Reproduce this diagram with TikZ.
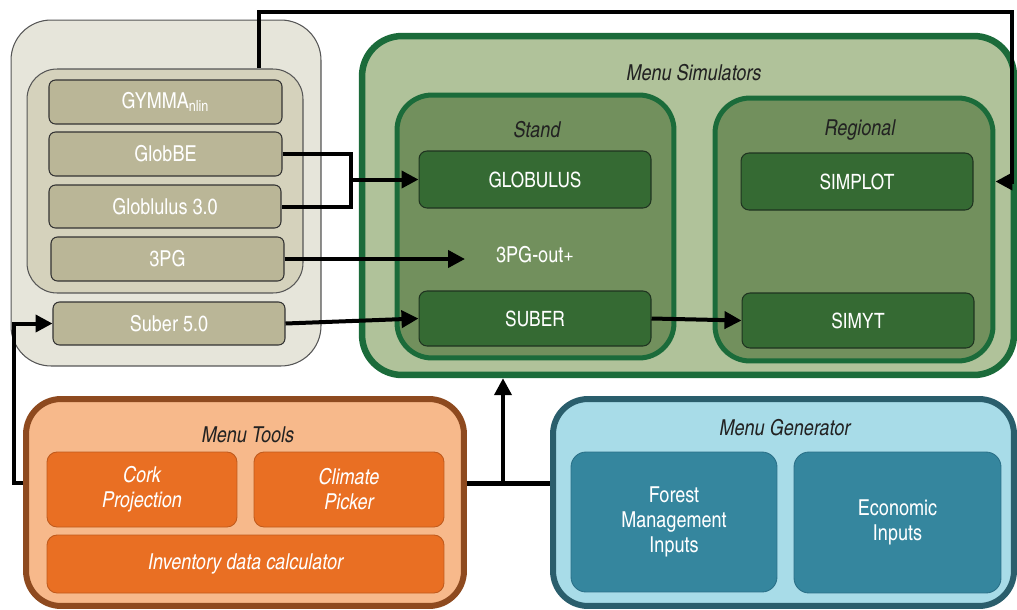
\documentclass[tikz,border=0pt]{standalone}
\usepackage{fontspec}
\setmainfont{texgyreheroscn}[Extension=.otf, UprightFont=*-regular, ItalicFont=*-italic, BoldFont=*-bold, BoldItalicFont=*-bolditalic]
\usepackage{tikz}
\usetikzlibrary{positioning,calc,arrows.meta}
\definecolor{GreyOuter}{HTML}{E6E5DA}
\definecolor{GreyInner}{HTML}{D5D2BC}
\definecolor{GreyLine}{HTML}{555555}
\definecolor{Tan}{HTML}{BAB697}
\definecolor{SimFill}{HTML}{B0C29A}
\definecolor{SimLine}{HTML}{1B6B3A}
\definecolor{StandFill}{HTML}{72905D}
\definecolor{SimDark}{HTML}{356A33}
\definecolor{SimDarkLine}{HTML}{1F3320}
\definecolor{ToolsFill}{HTML}{F7B98B}
\definecolor{ToolsLine}{HTML}{8E4A1F}
\definecolor{Orange}{HTML}{E96F23}
\definecolor{OrangeLine}{HTML}{C05A1C}
\definecolor{GenFill}{HTML}{A8DCE8}
\definecolor{GenLine}{HTML}{2A5E6C}
\definecolor{Teal}{HTML}{35869E}
\definecolor{TealLine}{HTML}{2A7088}
\definecolor{TitleText}{HTML}{222222}
\tikzset{
    label/.style={font=\fontsize{12.5}{14.2}\selectfont, align=center},
    title/.style={font=\fontsize{12.5}{14.2}\selectfont\itshape, text=TitleText},
    conn/.style={draw=black, line width=0.08cm},
    arrow/.style={conn, -{Triangle[length=0.34cm,width=0.34cm]}}
}

\begin{document}
\begin{tikzpicture}[
                x=0.02cm, y=-0.02cm,
                libbox/.style={
                    rounded corners=0.8cm,
                    draw=GreyLine,
                    fill=GreyOuter,
                    line width=0.6pt
                },
                modelbox/.style={
                    label,
                    rounded corners=0.13cm,
                    draw=black!80,
                    fill=Tan,
                    text=white,
                    line width=0.6pt
                },
                menubox/.style={
                    rounded corners=0.8cm,
                    line width=0.13cm
                },
                simbox/.style={
                    label,
                    font=\fontsize{12}{14.2}\selectfont,
                    rounded corners=0.16cm,
                    draw=SimDarkLine,
                    fill=SimDark,
                    text=white,
                    line width=0.6pt
                },
                toolbox/.style={
                    label,
                    font=\fontsize{12.5}{14.2}\selectfont\itshape,
                    rounded corners=0.2cm,
                    draw=OrangeLine,
                    fill=Orange,
                    text=white,
                    line width=0.5pt
                },
                genbox/.style={
                    label,
                    rounded corners=0.3cm,
                    draw=TealLine,
                    fill=Teal,
                    text=white,
                    line width=0.5pt
                }
            ]
                \useasboundingbox (0,0) rectangle (1017,609);

                \node[libbox, minimum width=6.2cm, minimum height=6.92cm] (libouter) at (166,193) {};
                \node[libbox, fill=GreyInner, rounded corners=0.6cm, minimum width=5.52cm, minimum height=4.48cm] (libinner) at (165,181) {};
                \node[modelbox, minimum width=4.66cm, minimum height=0.88cm] (gymma) at (165.5,102) {GYMMA\textsubscript{nlin}};
                \node[modelbox, minimum width=4.66cm, minimum height=0.88cm] (globbe) at (165.5,154) {GlobBE};
                \node[modelbox, minimum width=4.64cm, minimum height=0.86cm] (globlulus) at (165,206.5) {Globlulus 3.0};
                \node[modelbox, minimum width=4.66cm, minimum height=0.88cm] (pg) at (167.5,259) {3PG};
                \node[modelbox, minimum width=4.64cm, minimum height=0.86cm] (suberold) at (169,323.5) {Suber 5.0};

                \node[menubox, draw=SimLine, fill=SimFill, minimum width=13.04cm, minimum height=6.78cm] (simulators) at (688,205.5) {};
                \node[title] (simtitle) at (694,73) {Menu Simulators};
                \node[menubox, draw=SimLine, fill=StandFill, line width=0.1cm, rounded corners=0.7cm, minimum width=5.54cm, minimum height=5.26cm] (stand) at (535.5,226.5) {};
                \node[title] (standtitle) at (537,130) {Stand};
                \node[menubox, draw=SimLine, fill=StandFill, line width=0.1cm, rounded corners=0.7cm, minimum width=5.56cm, minimum height=5.26cm] (regional) at (854,229.5) {};
                \node[title] (regionaltitle) at (860,130) {Regional};
                \node[simbox, minimum width=4.64cm, minimum height=1.14cm] (globulus) at (535,179.5) {GLOBULUS};
                \node[label, text=white] (pgout) at (535,255) {3PG-out+};
                \node[simbox, minimum width=4.64cm, minimum height=1.1cm] (suber) at (535,318.5) {SUBER};
                \node[simbox, minimum width=4.64cm, minimum height=1.14cm] (simplot) at (857,181.5) {SIMPLOT};
                \node[simbox, minimum width=4.64cm, minimum height=1.1cm] (simyt) at (858,320.5) {SIMYT};

                \node[menubox, draw=ToolsLine, fill=ToolsFill, line width=0.12cm, rounded corners=0.7cm, minimum width=8.76cm, minimum height=4.14cm] (tools) at (245,502.5) {};
                \node[title] (toolstitle) at (248,435) {Menu Tools};
                \node[toolbox, minimum width=3.8cm, minimum height=1.5cm] (cork) at (142,489.5) {Cork\\Projection};
                \node[toolbox, minimum width=3.8cm, minimum height=1.5cm] (climate) at (349,489.5) {Climate\\Picker};
                \node[toolbox, minimum width=7.94cm, minimum height=1.16cm] (inventory) at (245.5,564) {Inventory data calculator};

                \node[menubox, draw=GenLine, fill=GenFill, line width=0.12cm, rounded corners=0.7cm, minimum width=9.22cm, minimum height=4.14cm] (generator) at (783.5,502.5) {};
                \node[title] (gentitle) at (785,428) {Menu Generator};
                \node[genbox, minimum width=4.12cm, minimum height=2.8cm] (forest) at (674,522) {Forest\\Management\\Inputs};
                \node[genbox, minimum width=4.14cm, minimum height=2.82cm] (economic) at (897.5,522.5) {Economic\\Inputs};

                \coordinate (feedtop) at (259,12);
                \coordinate (feedright) at (1012,12);
                \draw[arrow] (libinner.north -| feedtop) -- (feedtop) -- (feedright) |- (regional.east |- simplot.east);
                \coordinate (globjoin) at (351,179.5);
                \draw[conn] (globbe.east) -| (globjoin) |- (globlulus.east);
                \draw[arrow] (globjoin) -- (globulus.west);
                \draw[arrow, shorten >=0.5cm] (pg.east) -- (pg.east -| pgout.west);
                \draw[arrow] (suberold.east) -- (suber.west);
                \draw[arrow] (suber.east) -- (simyt.west);
                \coordinate (toolsleft) at (14,483);
                \draw[arrow] (tools.west |- toolsleft) -- (toolsleft) |- (suberold.west);
                \coordinate (toolsmid) at (503,483);
                \draw[conn, line width=0.1cm] (tools.east |- toolsmid) -- (generator.west |- toolsmid);
                \draw[arrow] (toolsmid) -- (toolsmid |- simulators.south);
            \end{tikzpicture}
\end{document}
